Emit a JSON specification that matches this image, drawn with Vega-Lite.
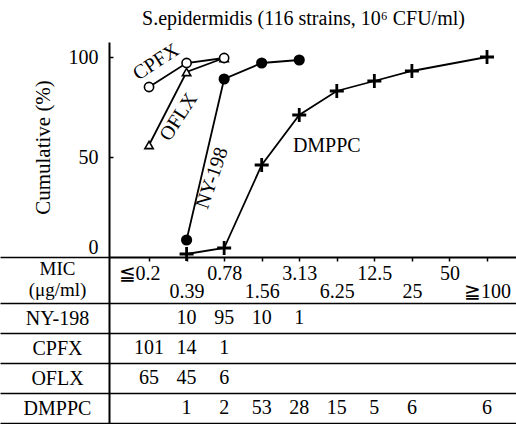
{
  "$schema": "https://vega.github.io/schema/vega-lite/v6.json",
  "autosize": {"type": "none"},
  "padding": {"left": 109, "top": 42, "right": 0, "bottom": 0},
  "width": 407,
  "height": 382,
  "config": {
    "font": "Liberation Serif",
    "view": {"stroke": null},
    "axis": {
      "labelFont": "Liberation Serif",
      "titleFont": "Liberation Serif",
      "labelColor": "black",
      "titleColor": "black",
      "domainColor": "black",
      "tickColor": "black",
      "labelFontSize": 20,
      "titleFontSize": 20,
      "titleFontWeight": "normal"
    },
    "text": {"font": "Liberation Serif", "fontSize": 20, "color": "black"}
  },
  "title": {
    "text": "S.epidermidis (116 strains, 10⁶ CFU/ml)",
    "font": "Liberation Serif",
    "fontSize": 20,
    "fontWeight": "normal",
    "color": "black",
    "frame": "group",
    "anchor": "middle",
    "dx": -9,
    "offset": 3
  },
  "datasets": {
    "cum": [
      {"drug": "NY-198", "mic": "0.39", "pct": 8.5},
      {"drug": "NY-198", "mic": "0.78", "pct": 89},
      {"drug": "NY-198", "mic": "1.56", "pct": 97},
      {"drug": "NY-198", "mic": "3.13", "pct": 98.5},
      {"drug": "CPFX", "mic": "≦0.2", "pct": 85},
      {"drug": "CPFX", "mic": "0.39", "pct": 97},
      {"drug": "CPFX", "mic": "0.78", "pct": 99.5},
      {"drug": "OFLX", "mic": "≦0.2", "pct": 56},
      {"drug": "OFLX", "mic": "0.39", "pct": 92.5},
      {"drug": "OFLX", "mic": "0.78", "pct": 99.5},
      {"drug": "DMPPC", "mic": "0.39", "pct": 1.5},
      {"drug": "DMPPC", "mic": "0.78", "pct": 4.5},
      {"drug": "DMPPC", "mic": "1.56", "pct": 46},
      {"drug": "DMPPC", "mic": "3.13", "pct": 71},
      {"drug": "DMPPC", "mic": "6.25", "pct": 83},
      {"drug": "DMPPC", "mic": "12.5", "pct": 88},
      {"drug": "DMPPC", "mic": "25", "pct": 93},
      {"drug": "DMPPC", "mic": "≧100", "pct": 100}
    ],
    "counts": [
      {"drug": "NY-198", "mic": "0.39", "n": 10},
      {"drug": "NY-198", "mic": "0.78", "n": 95},
      {"drug": "NY-198", "mic": "1.56", "n": 10},
      {"drug": "NY-198", "mic": "3.13", "n": 1},
      {"drug": "CPFX", "mic": "≦0.2", "n": 101},
      {"drug": "CPFX", "mic": "0.39", "n": 14},
      {"drug": "CPFX", "mic": "0.78", "n": 1},
      {"drug": "OFLX", "mic": "≦0.2", "n": 65},
      {"drug": "OFLX", "mic": "0.39", "n": 45},
      {"drug": "OFLX", "mic": "0.78", "n": 6},
      {"drug": "DMPPC", "mic": "0.39", "n": 1},
      {"drug": "DMPPC", "mic": "0.78", "n": 2},
      {"drug": "DMPPC", "mic": "1.56", "n": 53},
      {"drug": "DMPPC", "mic": "3.13", "n": 28},
      {"drug": "DMPPC", "mic": "6.25", "n": 15},
      {"drug": "DMPPC", "mic": "12.5", "n": 5},
      {"drug": "DMPPC", "mic": "25", "n": 6},
      {"drug": "DMPPC", "mic": "≧100", "n": 6}
    ]
  },
  "layer": [
    {
      "data": {"name": "cum"},
      "layer": [
        {
          "mark": {"type": "line", "color": "black", "strokeWidth": 1.8},
          "encoding": {
            "x": {
              "field": "mic",
              "type": "ordinal",
              "scale": {
                "type": "point",
                "domain": ["≦0.2", "0.39", "0.78", "1.56", "3.13", "6.25", "12.5", "25", "50", "≧100"],
                "padding": 0.919,
                "align": 0.58
              },
              "axis": {
                "orient": "bottom",
                "offset": -167,
                "title": ["MIC", "(μg/ml)"],
                "titleX": -52,
                "titleY": 11,
                "titleAngle": 0,
                "titleAlign": "center",
                "titleBaseline": "middle",
                "titleLineHeight": 21,
                "titleFontSize": 19,
                "labelAngle": 0,
                "labelBaseline": "middle",
                "labelAlign": "center",
                "labelOverlap": false,
                "labelPadding": {
                  "condition": {"test": "indexof(['0.39','1.56','6.25','25','≧100'], datum.value) >= 0", "value": 30},
                  "value": 12
                },
                "labelOffset": {
                  "condition": {"test": "datum.value == '≦0.2'", "value": -10},
                  "value": 0
                },
                "tickSize": 4,
                "tickWidth": 1.5,
                "domainWidth": 2,
                "grid": false
              }
            },
            "y": {
              "field": "pct",
              "type": "quantitative",
              "scale": {"domain": [-83.5, 107.5], "nice": false, "zero": false},
              "axis": {
                "values": [0, 50, 100],
                "title": "Cumulative (%)",
                "titleX": -66,
                "titleY": 105,
                "titleAngle": -90,
                "titleAlign": "center",
                "titleBaseline": "middle",
                "titleFontSize": 21,
                "grid": false,
                "domainWidth": 2,
                "tickWidth": 1.5,
                "tickSize": {
                  "condition": {"test": "datum.value === 0", "value": 109},
                  "value": -4
                },
                "labelPadding": {
                  "condition": {"test": "datum.value === 0", "value": -98},
                  "value": 15
                },
                "labelBaseline": {
                  "condition": {"test": "datum.value === 0", "value": "bottom"},
                  "value": "middle"
                }
              }
            },
            "detail": {"field": "drug"},
            "order": {"value": null}
          }
        },
        {
          "transform": [{"filter": "datum.drug == 'NY-198'"}],
          "mark": {"type": "point", "shape": "circle", "filled": true, "color": "black", "size": 125, "opacity": 1},
          "encoding": {
            "x": {"field": "mic", "type": "ordinal"},
            "y": {"field": "pct", "type": "quantitative"}
          }
        },
        {
          "transform": [{"filter": "datum.drug == 'OFLX'"}],
          "mark": {"type": "point", "shape": "triangle-up", "filled": true, "fill": "white", "stroke": "black", "strokeWidth": 1.6, "size": 70, "opacity": 1},
          "encoding": {
            "x": {"field": "mic", "type": "ordinal"},
            "y": {"field": "pct", "type": "quantitative"}
          }
        },
        {
          "transform": [{"filter": "datum.drug == 'CPFX'"}],
          "mark": {"type": "point", "shape": "circle", "filled": true, "fill": "white", "stroke": "black", "strokeWidth": 1.6, "size": 85, "opacity": 1},
          "encoding": {
            "x": {"field": "mic", "type": "ordinal"},
            "y": {"field": "pct", "type": "quantitative"}
          }
        },
        {
          "transform": [{"filter": "datum.drug == 'DMPPC'"}],
          "mark": {"type": "point", "shape": "M-1,0H1M0,-1V1", "filled": false, "stroke": "black", "strokeWidth": 2.8, "size": 196, "opacity": 1},
          "encoding": {
            "x": {"field": "mic", "type": "ordinal"},
            "y": {"field": "pct", "type": "quantitative"}
          }
        },
        {
          "data": {"values": [{"name": "CPFX"}]},
          "mark": {"type": "text", "angle": 327, "xOffset": 7, "fontSize": 20},
          "encoding": {
            "x": {"datum": "≦0.2", "type": "ordinal"},
            "y": {"datum": 97.5, "type": "quantitative"},
            "text": {"field": "name"}
          }
        },
        {
          "data": {"values": [{"name": "OFLX"}]},
          "mark": {"type": "text", "angle": 303, "xOffset": -8, "fontSize": 20},
          "encoding": {
            "x": {"datum": "0.39", "type": "ordinal"},
            "y": {"datum": 70, "type": "quantitative"},
            "text": {"field": "name"}
          }
        },
        {
          "data": {"values": [{"name": "NY-198"}]},
          "mark": {"type": "text", "angle": 289, "xOffset": -12, "fontSize": 20},
          "encoding": {
            "x": {"datum": "0.78", "type": "ordinal"},
            "y": {"datum": 39.5, "type": "quantitative"},
            "text": {"field": "name"}
          }
        },
        {
          "data": {"values": [{"name": "DMPPC"}]},
          "mark": {"type": "text", "xOffset": -10, "fontSize": 20},
          "encoding": {
            "x": {"datum": "6.25", "type": "ordinal"},
            "y": {"datum": 55.5, "type": "quantitative"},
            "text": {"field": "name"}
          }
        }
      ]
    },
    {
      "data": {"name": "counts"},
      "mark": {"type": "text", "fontSize": 20, "color": "black"},
      "encoding": {
        "x": {"field": "mic", "type": "ordinal"},
        "y": {
          "field": "drug",
          "type": "nominal",
          "scale": {
            "type": "band",
            "domain": ["NY-198", "CPFX", "OFLX", "DMPPC"],
            "range": [261, 381],
            "paddingInner": 0,
            "paddingOuter": 0
          },
          "axis": {
            "orient": "left",
            "title": null,
            "tickBand": "extent",
            "tickSize": 109,
            "tickWidth": 1.5,
            "grid": true,
            "gridColor": "black",
            "gridWidth": 1.5,
            "gridOpacity": 1,
            "domain": false,
            "labelAlign": "center",
            "labelBaseline": "middle",
            "labelPadding": -57,
            "labelFontSize": 20
          }
        },
        "text": {"field": "n", "type": "quantitative"}
      }
    }
  ],
  "resolve": {"scale": {"y": "independent"}, "axis": {"y": "independent"}}
}
